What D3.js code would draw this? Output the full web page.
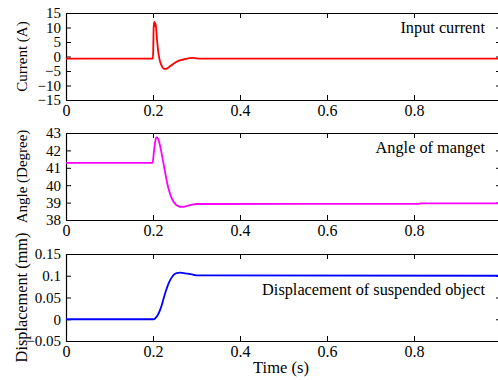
<!DOCTYPE html>
<html>
<head>
<meta charset="utf-8">
<script src="https://cdn.jsdelivr.net/npm/d3@7"></script>
<style>
body{margin:0;background:#fff;}
svg{display:block;}
</style>
</head>
<body>
<div id="chart"></div>
<script>
// time ticks shared by the 3 panels
let timeTicks = [0, 0.2, 0.4, 0.6, 0.8, 1];

// input current (A)
let curT = [0, 0.1995, 0.2005, 0.2015, 0.203, 0.2045, 0.206, 0.208, 0.211, 0.215, 0.220, 0.227, 0.233, 0.240, 0.248, 0.256, 0.265, 0.275, 0.284, 0.292, 0.300, 0.310, 1.0];
let curV = [-0.7, -0.7, 2, 10, 12, 10.5, 11.5, 8, 3, -1, -3.2, -4.3, -4.1, -3.3, -2.4, -1.7, -1.2, -0.85, -0.55, -0.5, -0.65, -0.75, -0.75];
let curTicks = [-15, -10, -5, 0, 5, 10, 15];

// angle of magnet (degree)
let angT = [0, 0.199, 0.202, 0.205, 0.208, 0.211, 0.215, 0.220, 0.226, 0.232, 0.238, 0.245, 0.252, 0.258, 0.265, 0.272, 0.280, 0.290, 0.300, 0.810, 0.815, 1.0];
let angV = [41.28, 41.28, 41.9, 42.5, 42.75, 42.7, 42.4, 41.8, 41.0, 40.2, 39.6, 39.15, 38.9, 38.8, 38.75, 38.77, 38.82, 38.88, 38.92, 38.93, 38.96, 38.96];
let angTicks = [38, 39, 40, 41, 42, 43];

// displacement of suspended object (mm)
let disT = [0, 0.202, 0.205, 0.210, 0.215, 0.220, 0.225, 0.230, 0.235, 0.240, 0.245, 0.250, 0.255, 0.262, 0.270, 0.280, 0.290, 0.300, 1.0];
let disV = [0, 0, 0.002, 0.008, 0.018, 0.032, 0.05, 0.066, 0.08, 0.091, 0.099, 0.104, 0.106, 0.107, 0.106, 0.105, 0.103, 0.101, 0.1];
let disTicks = [-0.05, 0, 0.05, 0.1, 0.15];

const width = 498, height = 380;
const left = 66, right = 501;
const font = "'Liberation Serif', 'Times New Roman', serif";

let svg = d3.select("#chart").append("svg")
    .attr("width", width)
    .attr("height", height)
    .style("font-family", font);

let x = d3.scaleLinear().domain([0, 1]).range([left, right]);

function drawPanel({top, bottom, times, values, ticks, color, ylabel, ylabelSize, note, noteY}){
    let y = d3.scaleLinear().domain([ticks[0], ticks[ticks.length-1]]).range([bottom, top]);
    let g = svg.append("g");

    // axes, ticks pointing inward
    let fmt = d => d3.format("~g")(d);
    let xb = g.append("g").attr("transform", `translate(0,${bottom})`)
        .call(d3.axisBottom(x).tickValues(timeTicks).tickFormat(fmt).tickSizeInner(-5).tickSizeOuter(0).tickPadding(5));
    g.append("g").attr("transform", `translate(0,${top})`)
        .call(d3.axisTop(x).tickValues(timeTicks).tickFormat("").tickSizeInner(-5).tickSizeOuter(0));
    let yl = g.append("g").attr("transform", `translate(${left},0)`)
        .call(d3.axisLeft(y).tickValues(ticks).tickFormat(fmt).tickSizeInner(-5).tickSizeOuter(0).tickPadding(5));
    g.append("g").attr("transform", `translate(${right},0)`)
        .call(d3.axisRight(y).tickValues(ticks).tickFormat("").tickSizeInner(-5).tickSizeOuter(0));
    g.selectAll(".domain").attr("stroke", "#000").attr("stroke-width", 1.2);
    g.selectAll(".tick line").attr("stroke", "#000");
    g.selectAll(".tick text").attr("font-family", font).attr("fill", "#000");
    xb.selectAll(".tick text").attr("font-size", 16);
    yl.selectAll(".tick text").attr("font-size", 15);

    let line = d3.line()
        .x((d, i) => x(times[i]))
        .y(d => y(d))
        .curve(d3.curveMonotoneX);
    g.append("path")
        .datum(values)
        .attr("fill", "none")
        .attr("stroke", color)
        .attr("stroke-width", 1.8)
        .attr("d", line);

    g.append("text")
        .attr("transform", `translate(27,${(top+bottom)/2}) rotate(-90)`)
        .attr("text-anchor", "middle")
        .attr("font-size", ylabelSize)
        .text(ylabel);

    g.append("text")
        .attr("x", 485)
        .attr("y", noteY)
        .attr("text-anchor", "end")
        .attr("font-size", 16.3)
        .text(note);
}

drawPanel({top:13, bottom:100, times:curT, values:curV, ticks:curTicks, color:"#ff0000",
    ylabel:"Current (A)", ylabelSize:15, note:"Input current", noteY:33});
drawPanel({top:133, bottom:220, times:angT, values:angV, ticks:angTicks, color:"#ff00ff",
    ylabel:"Angle (Degree)", ylabelSize:15, note:"Angle of manget", noteY:153});
drawPanel({top:254, bottom:341, times:disT, values:disV, ticks:disTicks, color:"#0000ff",
    ylabel:"Displacement (mm)", ylabelSize:16.3, note:"Displacement of suspended object", noteY:295});

svg.append("text")
    .attr("x", 281)
    .attr("y", 373)
    .attr("text-anchor", "middle")
    .attr("font-size", 16.5)
    .text("Time (s)");
</script>
</body>
</html>
